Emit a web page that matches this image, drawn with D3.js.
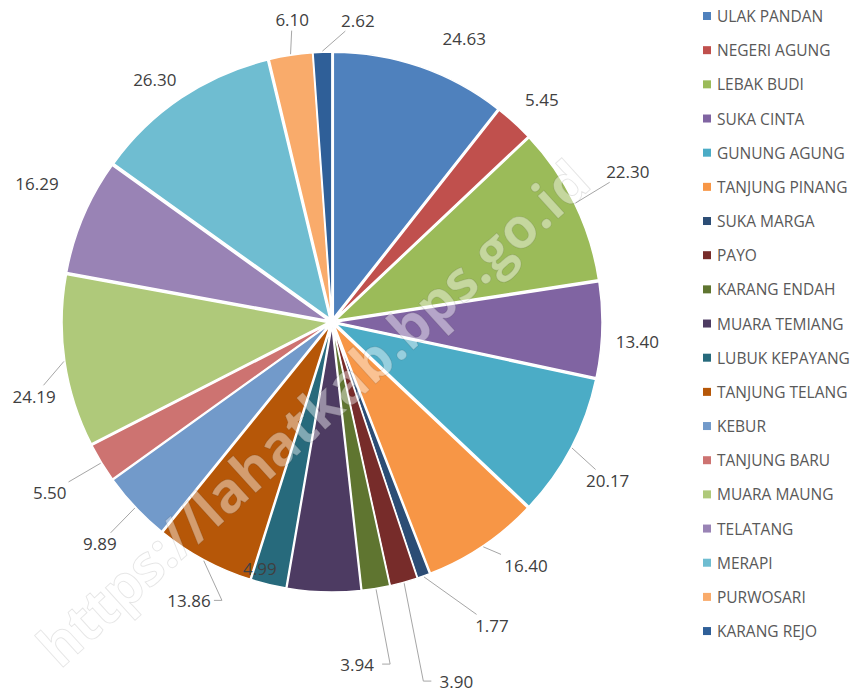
<!DOCTYPE html>
<html>
<head>
<meta charset="utf-8">
<script src="https://cdn.jsdelivr.net/npm/d3@7"></script>
<style>
  body { margin: 0; background: #fff; }
  svg { display: block; }
</style>
</head>
<body>
<div id="chart"></div>
<script>
const width = 866,
    height = 695;

// data
const categories = ["ULAK PANDAN", "NEGERI AGUNG", "LEBAK BUDI", "SUKA CINTA", "GUNUNG AGUNG",
    "TANJUNG PINANG", "SUKA MARGA", "PAYO", "KARANG ENDAH", "MUARA TEMIANG", "LUBUK KEPAYANG",
    "TANJUNG TELANG", "KEBUR", "TANJUNG BARU", "MUARA MAUNG", "TELATANG", "MERAPI",
    "PURWOSARI", "KARANG REJO"];
const values = [24.63, 5.45, 22.30, 13.40, 20.17, 16.40, 1.77, 3.90, 3.94, 10.35, 4.99,
    13.86, 9.89, 5.50, 24.19, 16.29, 26.30, 6.10, 2.62];
const colors = ["#4f81bd", "#c0504d", "#9bbb59", "#8064a2", "#4bacc6", "#f79646", "#2c4d75",
    "#772c2a", "#5f7530", "#4d3b62", "#276a7c", "#b65708", "#729aca", "#cd7371", "#afc97a",
    "#9983b5", "#6fbdd1", "#f9ab6b", "#2f5f98"];

// label placement (angle from top in degrees, distance from centre), null = label hidden
const labelAngle = [25, 43.3, 63, 93.7, 119.9, 141.4, 152.2, 160.9, 175.8, null, 196.3,
    207.2, 226.3, 238.8, 256, 295.2, 323.8, 352.5, 4.9];
const labelDist = [313, 306, 332, 306, 318, 311, 343, 380, 343, null, 257, 313, 321, 330,
    307, 326, 300, 305, 303];
const hasLeader = [0, 0, 1, 0, 1, 1, 1, 1, 1, 0, 0, 1, 1, 1, 1, 0, 0, 1, 1];

const cx = 332, cy = 322;
const radius = 266, explode = 4;

const svg = d3.select("#chart")
    .append("svg")
    .attr("width", width)
    .attr("height", height);

const pie = d3.pie()
    .sort(null)
    .value(function(d) { return d })

const arc = d3.arc()
    .innerRadius(0)
    .outerRadius(radius)

const arcs = pie(values)

const g = svg.append("g")
    .attr("transform", `translate(${cx},${cy})`);

function mid(d) { return (d.startAngle + d.endAngle) / 2 }

g.selectAll(null)
    .data(arcs)
    .join("path")
    .attr("d", arc)
    .attr("transform", function(d) {
        const a = mid(d)
        return `translate(${explode * Math.sin(a)},${-explode * Math.cos(a)})`
    })
    .attr("fill", function(d, i) { return colors[i] })
    .attr("stroke", "#fff")
    .style("stroke-width", "1.5px")

const fmt = d3.format(".2f")
const labelData = arcs.map(function(d, i) {
    if (labelAngle[i] === null) return null
    const a = labelAngle[i] * Math.PI / 180
    return {
        arc: d,
        i: i,
        x: labelDist[i] * Math.sin(a),
        y: -labelDist[i] * Math.cos(a),
        text: fmt(values[i])
    }
}).filter(function(d) { return d !== null })

// leader lines
g.selectAll(null)
    .data(labelData.filter(function(d) { return hasLeader[d.i] }))
    .join("path")
    .attr("fill", "none")
    .attr("stroke", "#a6a6a6")
    .style("stroke-width", "1px")
    .attr("d", function(d) {
        const a = mid(d.arc)
        const r0 = radius + explode + 1
        const sx = r0 * Math.sin(a), sy = -r0 * Math.cos(a)
        const hw = 25, hh = 11
        const dx = sx - d.x, dy = sy - d.y
        const t = Math.min(hw / Math.abs(dx || 1e-6), hh / Math.abs(dy || 1e-6))
        const ex = d.x + dx * t, ey = d.y + dy * t
        // short horizontal elbow into the label for the steep ones
        const side = dx > 0 ? 1 : -1
        if (Math.abs(dy) > Math.abs(dx) * 1.2 && Math.abs(dx) > 12) {
            const kx = d.x + side * (hw + 8)
            return `M${sx},${sy}L${kx},${d.y}L${d.x + side * hw},${d.y}`
        }
        return `M${sx},${sy}L${ex},${ey}`
    })

g.selectAll(null)
    .data(labelData)
    .join("text")
    .attr("x", function(d) { return d.x })
    .attr("y", function(d) { return d.y })
    .attr("text-anchor", "middle")
    .attr("dominant-baseline", "central")
    .style("font-family", "'Open Sans', sans-serif")
    .style("font-size", "17px")
    .style("fill", "#404040")
    .text(function(d) { return d.text })

// legend
const legendX = 703, legendY = 16, legendStep = 34.17, size = 8
const legend = svg.append("g")

legend.selectAll(null)
    .data(categories)
    .join("rect")
    .attr("x", legendX)
    .attr("y", function(d, i) { return legendY + i * legendStep - size / 2 })
    .attr("width", size)
    .attr("height", size)
    .style("fill", function(d, i) { return colors[i] })

legend.selectAll(null)
    .data(categories)
    .join("text")
    .attr("x", legendX + size + 6)
    .attr("y", function(d, i) { return legendY + i * legendStep })
    .attr("dominant-baseline", "central")
    .style("font-family", "'Open Sans', sans-serif")
    .style("font-size", "15.5px")
    .style("fill", "#595959")
    .text(function(d) { return d })

// watermark
svg.append("text")
    .attr("transform", "translate(312,412) rotate(-42.2)")
    .attr("text-anchor", "middle")
    .attr("dominant-baseline", "central")
    .attr("textLength", 720)
    .attr("lengthAdjust", "spacingAndGlyphs")
    .style("font-family", "'Open Sans', sans-serif")
    .style("font-weight", "bold")
    .style("font-size", "56px")
    .style("fill", "#ffffff")
    .style("fill-opacity", 0.42)
    .style("stroke", "#000")
    .style("stroke-opacity", 0.1)
    .style("stroke-width", "1px")
    .text("https://lahatkab.bps.go.id")
</script>
</body>
</html>
